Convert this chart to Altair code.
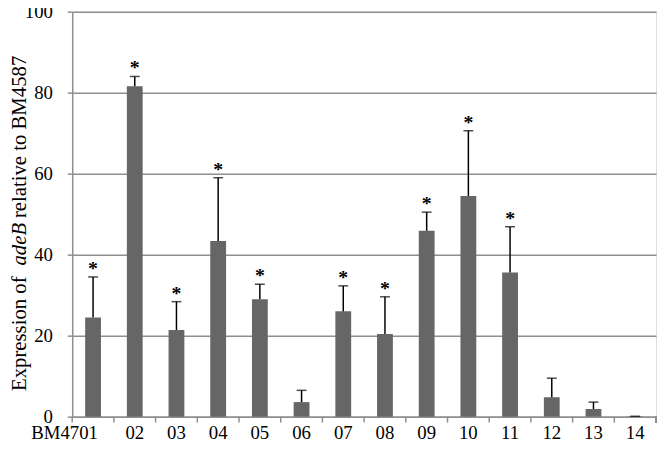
import altair as alt
import pandas as pd

categories = ["BM4701", "02", "03", "04", "05", "06", "07", "08", "09", "10", "11", "12", "13", "14"]
means = [24.5, 81.6, 21.4, 43.4, 29.0, 3.6, 26.0, 20.4, 45.9, 54.5, 35.6, 4.8, 1.9, 0.1]
err_top = [34.5, 84.0, 28.4, 59.0, 32.7, 6.5, 32.3, 29.6, 50.5, 70.6, 46.9, 9.5, 3.6, 0.1]
significant = [True, True, True, True, True, False, True, True, True, True, True, False, False, False]
y_ticks = [0, 20, 40, 60, 80, 100]

df = pd.DataFrame({"cat": categories, "mean": means, "err": err_top, "sig": significant})

W, H = 591, 410
FONT = "Liberation Serif"
GRAY = "#8f8f8f"

xenc = alt.X(
    "cat:N",
    sort=categories,
    scale=alt.Scale(paddingInner=0, paddingOuter=0),
    axis=alt.Axis(
        title=None,
        labelAngle=0,
        ticks=False,
        domainColor=GRAY,
        domainWidth=1.5,
        labelFont=FONT,
        labelFontSize=19,
        labelColor="black",
        labelPadding=7,
        labelAlign=alt.condition("datum.value == 'BM4701'", alt.value("right"), alt.value("center")),
        labelOffset=alt.condition("datum.value == 'BM4701'", alt.value(5), alt.value(0)),
    ),
)
yenc = alt.Y(
    "mean:Q",
    scale=alt.Scale(domain=[0, 100], nice=False),
    axis=alt.Axis(
        title=None,
        values=y_ticks,
        grid=True,
        gridColor=GRAY,
        gridWidth=1.5,
        domainColor=GRAY,
        domainWidth=1.5,
        tickColor=GRAY,
        tickWidth=1.5,
        tickSize=5,
        labelPadding=15,
        labelFont=FONT,
        labelFontSize=19,
        labelColor="black",
    ),
)

base = alt.Chart(df)
bars = base.mark_bar(color="#666666", size=16).encode(x=xenc, y=yenc)
errs = base.mark_rule(color="black", strokeWidth=1.5).encode(
    x=alt.X("cat:N", sort=categories), y="mean:Q", y2="err:Q"
)
caps = base.mark_tick(color="black", size=10, thickness=1.5).encode(
    x=alt.X("cat:N", sort=categories), y=alt.Y("err:Q")
)
stars = base.transform_filter("datum.sig").mark_text(
    text="*", font=FONT, fontSize=20, fontWeight="bold", baseline="alphabetic", dy=-2, color="black"
).encode(x=alt.X("cat:N", sort=categories), y=alt.Y("err:Q"))

xticks = base.mark_rule(color=GRAY, strokeWidth=1.5).encode(
    x=alt.X("cat:N", sort=categories, bandPosition=0), y=alt.value(H), y2=alt.value(H + 6)
)
xtick_end = base.mark_rule(color=GRAY, strokeWidth=1.5).encode(
    x=alt.value(W), y=alt.value(H), y2=alt.value(H + 6)
)

# y axis title with italic gene name
title_parts = ["Expression of", "adeB", "relative to BM4587"]
tx = -47
ty0 = 384
t1 = alt.Chart(pd.DataFrame({"t": [title_parts[0]]})).mark_text(
    font=FONT, fontSize=21, angle=270, align="left", baseline="alphabetic", color="black"
).encode(text="t:N", x=alt.value(tx), y=alt.value(ty0))
t2 = alt.Chart(pd.DataFrame({"t": [title_parts[1]]})).mark_text(
    font=FONT, fontSize=21, fontStyle="italic", angle=270, align="left", baseline="alphabetic", color="black"
).encode(text="t:N", x=alt.value(tx), y=alt.value(ty0 - 127))
t3 = alt.Chart(pd.DataFrame({"t": [title_parts[2]]})).mark_text(
    font=FONT, fontSize=21, angle=270, align="left", baseline="alphabetic", color="black"
).encode(text="t:N", x=alt.value(tx), y=alt.value(ty0 - 127 - 48))

chart = alt.layer(bars, errs, caps, stars, xticks, xtick_end, t1, t2, t3).properties(
    width=W,
    height=H,
    autosize=alt.AutoSizeParams(type="none"),
    padding={"left": 65, "top": 1, "right": 2, "bottom": 29},
).configure_view(stroke=GRAY, strokeWidth=1.5).configure(background="white")

chart.save("out.html", embed_options={"renderer": "svg", "actions": False})
